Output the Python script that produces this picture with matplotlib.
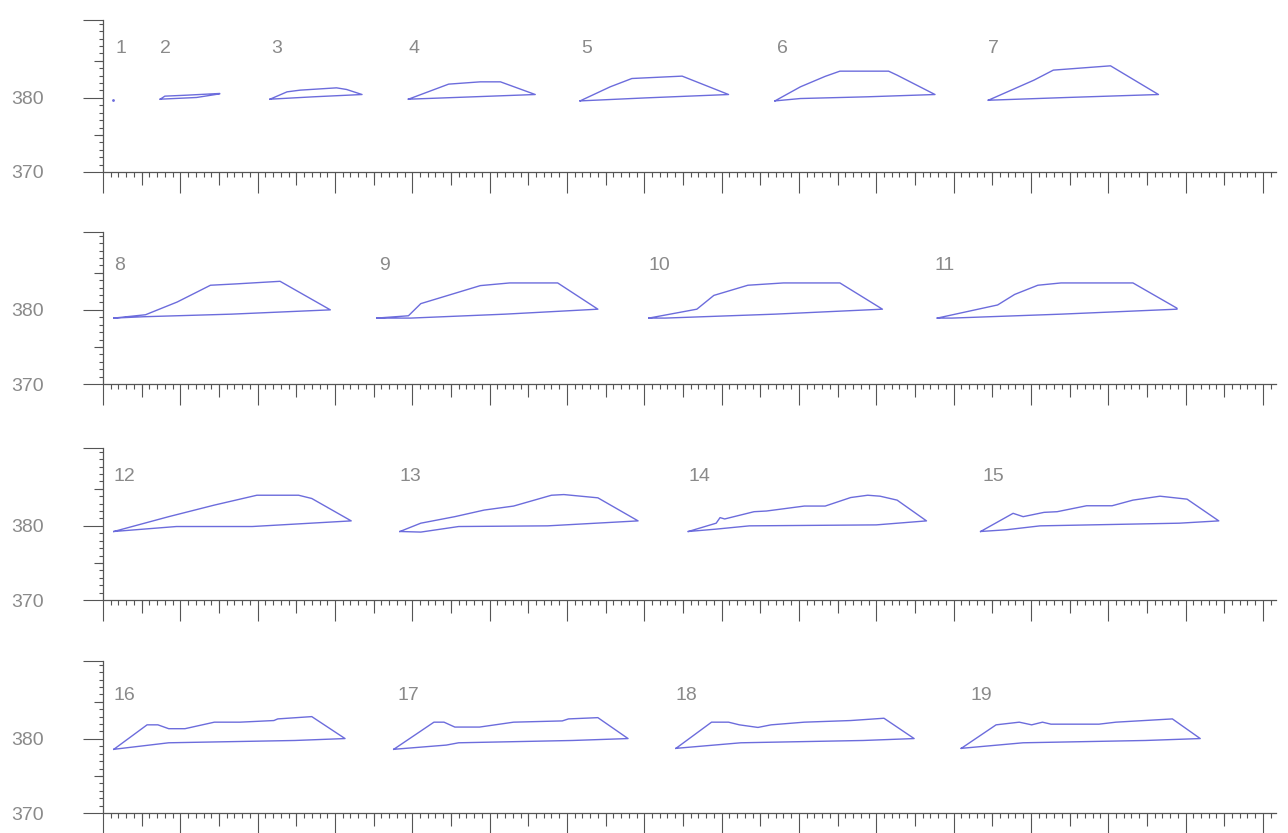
import matplotlib
matplotlib.use("Agg")
import matplotlib.pyplot as plt
import numpy as np

# ---------------- data (x in major-tick units, y in data units) ----------------
labels = [str(i) for i in range(1, 20)]
rows = [[1, 2, 3, 4, 5, 6, 7], [8, 9, 10, 11], [12, 13, 14, 15], [16, 17, 18, 19]]

label_x = [0.16, 0.74, 2.18, 3.95, 6.19, 8.72, 11.45,
           0.14, 3.57, 7.05, 10.75,
           0.14, 3.84, 7.57, 11.38,
           0.14, 3.81, 7.41, 11.22]
label_y_row = [386.6, 386.0, 386.6, 385.8]

# loop 1 is a single point
dot_x = [0.125]
dot_y = [379.7]

loop_x = {
    2: [0.74, 0.80, 1.08, 1.51, 1.51, 1.21, 0.74],
    3: [2.16, 2.38, 2.55, 3.02, 3.15, 3.35, 3.35, 2.72, 2.16],
    4: [3.95, 4.47, 4.88, 5.14, 5.59, 4.79, 3.95],
    5: [6.17, 6.56, 6.84, 7.49, 8.09, 7.03, 6.17],
    6: [8.69, 9.02, 9.34, 9.53, 10.16, 10.27, 10.76, 9.88, 9.02, 8.69],
    7: [11.45, 12.04, 12.29, 13.03, 13.65, 12.47, 11.45],
    8: [0.14, 0.55, 0.96, 1.39, 1.72, 2.29, 2.94, 1.66, 0.52, 0.14],
    9: [3.54, 3.95, 4.11, 4.88, 5.26, 5.88, 6.40, 5.20, 3.98, 3.54],
    10: [7.06, 7.68, 7.90, 8.34, 8.80, 9.53, 10.08, 8.69, 7.27, 7.06],
    11: [10.79, 11.57, 11.79, 12.09, 12.39, 13.32, 13.89, 13.89, 12.39, 10.98, 10.79],
    12: [0.14, 0.85, 1.44, 1.99, 2.53, 2.70, 3.21, 1.93, 0.95, 0.14],
    13: [3.84, 4.11, 4.55, 4.93, 5.31, 5.80, 5.96, 6.40, 6.92, 5.75, 4.60, 4.11, 3.84],
    14: [7.57, 7.93, 7.98, 8.04, 8.42, 8.58, 9.07, 9.34, 9.67, 9.89, 10.05, 10.27, 10.65,
         10.00, 8.36, 7.93, 7.57],
    15: [11.35, 11.77, 11.90, 12.17, 12.34, 12.72, 13.05, 13.32, 13.67, 14.02, 14.43,
         13.92, 12.12, 11.68, 11.35],
    16: [0.14, 0.57, 0.71, 0.85, 1.06, 1.44, 1.77, 2.21, 2.26, 2.70, 3.13, 2.48, 0.85, 0.14],
    17: [3.76, 4.28, 4.41, 4.55, 4.87, 5.31, 5.94, 6.02, 6.40, 6.79, 6.07, 4.60, 4.44, 3.76],
    18: [7.41, 7.87, 8.09, 8.23, 8.47, 8.64, 9.07, 9.67, 10.10, 10.49, 9.83, 8.25, 7.41],
    19: [11.10, 11.55, 11.85, 12.01, 12.15, 12.26, 12.88, 13.10, 13.83, 14.19, 13.48, 11.90, 11.10],
}
loop_y = {
    2: [379.82, 380.23, 380.36, 380.59, 380.54, 380.05, 379.82],
    3: [379.82, 380.81, 381.04, 381.35, 381.13, 380.45, 380.45, 380.14, 379.82],
    4: [379.82, 381.85, 382.16, 382.16, 380.45, 380.14, 379.82],
    5: [379.59, 381.49, 382.61, 382.93, 380.45, 380.00, 379.59],
    6: [379.59, 381.49, 382.90, 383.60, 383.60, 383.06, 380.45, 380.14, 379.91, 379.59],
    7: [379.68, 382.39, 383.74, 384.32, 380.45, 380.05, 379.68],
    8: [378.89, 379.34, 381.06, 383.32, 383.50, 383.85, 380.00, 379.42, 379.07, 378.89],
    9: [378.89, 379.20, 380.84, 383.27, 383.63, 383.63, 380.09, 379.42, 378.89, 378.89],
    10: [378.89, 380.09, 381.95, 383.32, 383.63, 383.63, 380.09, 379.42, 378.89, 378.89],
    11: [378.89, 380.66, 382.08, 383.32, 383.63, 383.63, 380.22, 380.09, 379.42, 378.89, 378.89],
    12: [379.24, 381.24, 382.80, 384.13, 384.13, 383.69, 380.67, 379.91, 379.91, 379.24],
    13: [379.24, 380.36, 381.24, 382.13, 382.67, 384.13, 384.22, 383.78, 380.67, 380.00,
         379.91, 379.16, 379.24],
    14: [379.24, 380.36, 381.11, 380.93, 381.91, 382.00, 382.67, 382.67, 383.82, 384.13,
         384.00, 383.47, 380.67, 380.13, 380.00, 379.56, 379.24],
    15: [379.24, 381.69, 381.24, 381.82, 381.91, 382.71, 382.71, 383.47, 384.00, 383.60,
         380.67, 380.36, 380.00, 379.47, 379.24],
    16: [378.59, 381.89, 381.89, 381.37, 381.37, 382.25, 382.25, 382.47, 382.69, 383.00,
         380.04, 379.78, 379.47, 378.59],
    17: [378.59, 382.25, 382.25, 381.59, 381.59, 382.25, 382.42, 382.69, 382.86, 380.04,
         379.78, 379.47, 379.16, 378.59],
    18: [378.72, 382.25, 382.25, 381.89, 381.54, 381.89, 382.25, 382.47, 382.78, 380.04,
         379.78, 379.47, 378.72],
    19: [378.72, 381.89, 382.25, 381.89, 382.25, 381.98, 381.98, 382.25, 382.69, 380.04,
         379.78, 379.47, 378.72],
}

y_tick_major = [370, 380, 390.5]
y_tick_labels = ["370", "380", ""]
y_tick_medium = [375, 385]
x_range = (0, 15.17)
y_range = (370, 390.5)

# ---------------- style ----------------
line_color = "#6c6cdc"
axis_color = "#555555"
text_color = "#8a8a8a"
W, H = 1288, 833
row_bottom_px = [172, 384, 600, 813]
ax_left_px = 103
ax_w_px = 1173
ax_h_px = 152

plt.rcParams["font.family"] = ["Liberation Sans", "DejaVu Sans"]
fig = plt.figure(figsize=(W / 100, H / 100), dpi=100)
fig.patch.set_facecolor("white")

pt = 0.72  # points per pixel at dpi 100

for r, members in enumerate(rows):
    b = row_bottom_px[r]
    ax = fig.add_axes([ax_left_px / W, 1 - b / H, ax_w_px / W, ax_h_px / H])
    ax.set_xlim(*x_range)
    ax.set_ylim(*y_range)
    ax.patch.set_alpha(0)
    for s in ("top", "right"):
        ax.spines[s].set_visible(False)
    for s in ("left", "bottom"):
        ax.spines[s].set_color(axis_color)
        ax.spines[s].set_linewidth(0.9)

    # x ticks: major each unit, minor every 0.1, medium at halves via secondary axis
    ax.set_xticks(np.arange(0, 15.01, 1.0))
    ax.set_xticks(np.arange(0, 15.17, 0.1), minor=True)
    ax.tick_params(axis="x", which="major", direction="out", length=21 * pt, width=0.8,
                   color=axis_color, labelbottom=False)
    ax.tick_params(axis="x", which="minor", direction="out", length=5 * pt, width=0.8,
                   color=axis_color)
    secx = ax.secondary_xaxis("bottom")
    secx.set_xticks(np.arange(0.5, 15.0, 1.0))
    secx.tick_params(axis="x", which="major", direction="out", length=13 * pt, width=0.8,
                     color=axis_color, labelbottom=False)
    secx.tick_params(axis="x", which="minor", length=0)
    secx.spines["bottom"].set_visible(False)

    # y ticks
    ax.set_yticks(y_tick_major)
    ax.set_yticklabels(y_tick_labels)
    ax.set_yticks(np.arange(370, 390.6, 1.0), minor=True)
    ax.tick_params(axis="y", which="major", direction="out", length=20 * pt, width=0.8,
                   color=axis_color, labelsize=14, labelcolor=text_color, pad=28)
    ax.tick_params(axis="y", which="minor", direction="out", length=4 * pt, width=0.8,
                   color=axis_color)
    secy = ax.secondary_yaxis("left")
    secy.set_yticks(y_tick_medium)
    secy.tick_params(axis="y", which="major", direction="out", length=9 * pt, width=0.8,
                     color=axis_color, labelleft=False)
    secy.tick_params(axis="y", which="minor", length=0)
    secy.spines["left"].set_visible(False)

    for n in members:
        if n == 1:
            ax.plot(dot_x, dot_y, ".", color=line_color, markersize=2)
        else:
            ax.plot(loop_x[n], loop_y[n], "-", color=line_color, lw=1.0)
        ax.text(label_x[n - 1], label_y_row[r], labels[n - 1], ha="left", va="center",
                fontsize=14, color=text_color)

fig.savefig("out.png", dpi=100, facecolor="white")
